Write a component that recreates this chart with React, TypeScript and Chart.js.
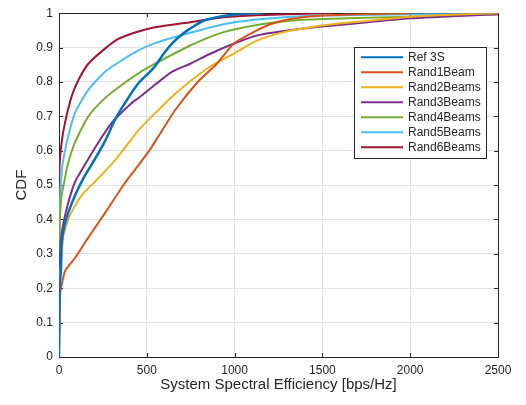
import React, { useEffect, useRef } from "react";
import { Chart, registerables } from "chart.js";

Chart.register(...registerables);

const xTicks = [0, 500, 1000, 1500, 2000, 2500];
const yTicks = [0, 0.1, 0.2, 0.3, 0.4, 0.5, 0.6, 0.7, 0.8, 0.9, 1];

const seriesNames = ["Ref 3S", "Rand1Beam", "Rand2Beams", "Rand3Beams", "Rand4Beams", "Rand5Beams", "Rand6Beams"];
const seriesColors = ["#0072BD", "#D95319", "#EDB120", "#7E2F8E", "#77AC30", "#4DBEEE", "#A2142F"];

const ref3sX = [0, 3, 6, 11, 15, 30, 53, 91, 148, 205, 262, 319, 376, 452, 509, 547, 600, 650, 700, 747, 822, 937, 1032, 1165];
const ref3sY = [0, 0.15, 0.22, 0.25, 0.33, 0.38, 0.42, 0.47, 0.528, 0.576, 0.628, 0.69, 0.739, 0.796, 0.825, 0.846, 0.885, 0.915, 0.938, 0.955, 0.978, 0.992, 0.998, 1.0];

const rand1X = [0, 2, 5, 12, 34, 91, 165, 270, 372, 457, 523, 570, 664, 790, 899, 994, 1089, 1203, 1317, 1469, 1700, 2000];
const rand1Y = [0, 0.1, 0.18, 0.2, 0.25, 0.288, 0.346, 0.425, 0.504, 0.561, 0.607, 0.645, 0.72, 0.8, 0.853, 0.911, 0.94, 0.968, 0.983, 0.992, 0.997, 1.0];

const rand2X = [0, 3, 8, 15, 24, 60, 129, 224, 319, 400, 457, 549, 645, 755, 861, 994, 1127, 1279, 1469, 1640, 2000, 2200, 2500];
const rand2Y = [0, 0.2, 0.25, 0.29, 0.35, 0.41, 0.47, 0.52, 0.572, 0.625, 0.662, 0.71, 0.758, 0.805, 0.845, 0.882, 0.92, 0.945, 0.962, 0.972, 0.99, 0.995, 1.0];

const rand3X = [0, 2, 6, 15, 44, 91, 167, 224, 300, 414, 457, 547, 645, 747, 861, 994, 1127, 1279, 1469, 1640, 2000, 2500];
const rand3Y = [0, 0.25, 0.3, 0.36, 0.432, 0.509, 0.576, 0.624, 0.681, 0.739, 0.755, 0.792, 0.83, 0.853, 0.882, 0.911, 0.935, 0.948, 0.96, 0.968, 0.985, 0.997];

const rand4X = [0, 2, 5, 15, 30, 50, 91, 167, 262, 357, 452, 547, 747, 937, 1127, 1317, 1500, 2000, 2500];
const rand4Y = [0, 0.3, 0.4, 0.47, 0.51, 0.56, 0.624, 0.7, 0.753, 0.791, 0.825, 0.853, 0.906, 0.945, 0.966, 0.978, 0.983, 0.99, 0.997];

const rand5X = [0, 1, 3, 11, 20, 44, 91, 167, 262, 357, 452, 547, 747, 937, 1127, 1469, 2000, 2500];
const rand5Y = [0, 0.3, 0.4, 0.509, 0.56, 0.624, 0.71, 0.777, 0.83, 0.863, 0.892, 0.913, 0.943, 0.968, 0.982, 0.993, 0.997, 1.0];

const rand6X = [0, 1, 3, 15, 34, 72, 110, 167, 262, 338, 433, 547, 747, 937, 1127, 1469, 1560];
const rand6Y = [0, 0.4, 0.55, 0.624, 0.681, 0.758, 0.805, 0.853, 0.897, 0.925, 0.944, 0.959, 0.974, 0.988, 0.994, 0.999, 1.0];

const seriesX = [ref3sX, rand1X, rand2X, rand3X, rand4X, rand5X, rand6X];
const seriesY = [ref3sY, rand1Y, rand2Y, rand3Y, rand4Y, rand5Y, rand6Y];

const FONT = '"Liberation Sans", Arial, Helvetica, sans-serif';
const TEXT = "#262626";

const framePlugin = {
  id: "matlabFrame",
  beforeDatasetsDraw(chart: any) {
    const { ctx, chartArea, scales } = chart;
    const { left, right, top, bottom } = chartArea;
    ctx.save();
    ctx.strokeStyle = TEXT;
    ctx.lineWidth = 1;
    ctx.beginPath();
    ctx.rect(Math.round(left) + 0.5, Math.round(top) + 0.5, Math.round(right - left), Math.round(bottom - top));
    ctx.stroke();
    const tl = 4;
    ctx.beginPath();
    scales.x.ticks.forEach((t: any) => {
      const px = Math.round(scales.x.getPixelForValue(t.value)) + 0.5;
      ctx.moveTo(px, bottom);
      ctx.lineTo(px, bottom - tl);
      ctx.moveTo(px, top);
      ctx.lineTo(px, top + tl);
    });
    scales.y.ticks.forEach((t: any) => {
      const py = Math.round(scales.y.getPixelForValue(t.value)) + 0.5;
      ctx.moveTo(left, py);
      ctx.lineTo(left + tl, py);
      ctx.moveTo(right, py);
      ctx.lineTo(right - tl, py);
    });
    ctx.stroke();
    ctx.restore();
  },
  afterDatasetsDraw(chart: any) {
    const { ctx, chartArea } = chart;
    const boxRight = chartArea.right - 12;
    const boxLeft = boxRight - 132;
    const boxTop = chartArea.top + 34;
    const rowH = 15;
    const n = chart.data.datasets.length;
    const boxH = rowH * n + 6;
    ctx.save();
    ctx.fillStyle = "#ffffff";
    ctx.fillRect(boxLeft, boxTop, boxRight - boxLeft, boxH);
    ctx.strokeStyle = TEXT;
    ctx.lineWidth = 1;
    ctx.strokeRect(Math.round(boxLeft) + 0.5, Math.round(boxTop) + 0.5, Math.round(boxRight - boxLeft), Math.round(boxH));
    ctx.font = `12px ${FONT}`;
    ctx.textBaseline = "middle";
    ctx.textAlign = "left";
    chart.data.datasets.forEach((ds: any, i: number) => {
      const cy = boxTop + 10 + i * rowH;
      ctx.strokeStyle = ds.borderColor;
      ctx.lineWidth = 2;
      ctx.beginPath();
      ctx.moveTo(boxLeft + 7, cy);
      ctx.lineTo(boxLeft + 49, cy);
      ctx.stroke();
      ctx.fillStyle = TEXT;
      ctx.fillText(ds.label, boxLeft + 54, cy + 0.5);
    });
    ctx.restore();
  },
};

export default function App() {
  const ref = useRef<HTMLCanvasElement | null>(null);
  useEffect(() => {
    document.body.style.margin = "0";
    const canvas = ref.current;
    if (!canvas) return;
    const datasets = seriesNames.map((name, i) => ({
      label: name,
      data: seriesX[i].map((x, j) => ({ x, y: seriesY[i][j] })),
      borderColor: seriesColors[i],
      backgroundColor: seriesColors[i],
      borderWidth: i === 0 ? 2.5 : 2,
      pointRadius: 0,
      showLine: true,
      tension: 0.2,
      fill: false,
    }));
    const chart = new Chart(canvas, {
      type: "scatter",
      data: { datasets },
      options: {
        animation: false,
        responsive: false,
        devicePixelRatio: 1,
        layout: { padding: { top: 9, right: 28, left: 0, bottom: 0 } },
        plugins: { legend: { display: false }, tooltip: { enabled: false } },
        scales: {
          x: {
            type: "linear",
            min: 0,
            max: 2500,
            afterBuildTicks: (s: any) => {
              s.ticks = xTicks.map((v) => ({ value: v }));
            },
            afterFit: (s: any) => {
              s.height = 48;
            },
            grid: { color: "#e2e2e2", drawTicks: false, lineWidth: 1 },
            border: { display: false },
            ticks: {
              color: TEXT,
              font: { family: FONT, size: 12 },
              padding: 6,
              maxRotation: 0,
              callback: (v: any) => String(v),
            },
            title: {
              display: true,
              text: "System Spectral Efficiency [bps/Hz]",
              color: TEXT,
              font: { family: FONT, size: 15 },
              padding: { top: 0, bottom: 11 },
            },
          },
          y: {
            type: "linear",
            min: 0,
            max: 1,
            afterBuildTicks: (s: any) => {
              s.ticks = yTicks.map((v) => ({ value: v }));
            },
            afterFit: (s: any) => {
              s.width = 59;
            },
            grid: { color: "#e2e2e2", drawTicks: false, lineWidth: 1 },
            border: { display: false },
            ticks: {
              color: TEXT,
              font: { family: FONT, size: 12 },
              padding: 6,
              callback: (v: any) => String(Math.round(v * 10) / 10),
            },
            title: {
              display: true,
              text: "CDF",
              color: TEXT,
              font: { family: FONT, size: 15 },
              padding: { top: 13, bottom: 0 },
            },
          },
        },
      },
      plugins: [framePlugin],
    } as any);
    return () => chart.destroy();
  }, []);
  return (
    <div style={{ width: 526, height: 405 }}>
      <canvas ref={ref} width={526} height={405} style={{ display: "block", width: 526, height: 405 }} />
    </div>
  );
}
